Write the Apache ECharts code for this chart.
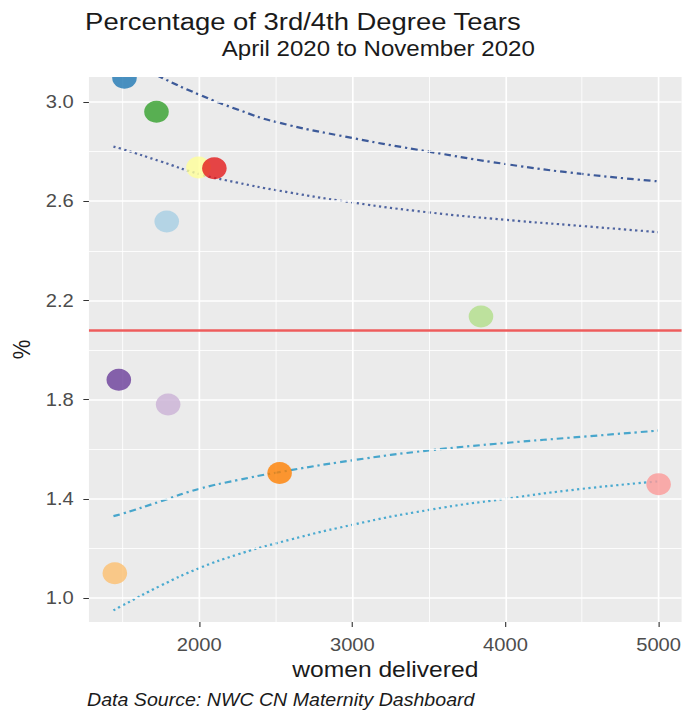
<!DOCTYPE html>
<html>
<head>
<meta charset="utf-8">
<script src="https://cdn.jsdelivr.net/npm/echarts@6/dist/echarts.min.js"></script>
<style>
  html, body { margin: 0; padding: 0; background: #fff; overflow: hidden; }
  /* chart is laid out narrower and stretched horizontally to the 684px frame */
  #chart { width: 610.7px; height: 713px; transform: scaleX(1.12); transform-origin: 0 0; }
</style>
</head>
<body>
<div id="chart"></div>
<script>
// Texts
const chartTitle = 'Percentage of 3rd/4th Degree Tears';
const chartSubtitle = 'April 2020 to November 2020';
const xAxisTitle = 'women delivered';
const yAxisTitle = '%';
const captionText = 'Data Source: NWC CN Maternity Dashboard';

// Ticks and grid breaks
const xTicks = [2000, 3000, 4000, 5000];
const xMinorBreaks = [1500, 2500, 3500, 4500];
const yTicks = [1.0, 1.4, 1.8, 2.2, 2.6, 3.0];
const yMinorBreaks = [1.2, 1.6, 2.0, 2.4, 2.8];

// One point per unit: women delivered and 3rd/4th degree tear rate (%)
const delivered = [1512, 1721, 1995, 2099, 1788, 3840, 1475, 1797, 2525, 1449, 5000];
const tearRate  = [3.098, 2.961, 2.736, 2.733, 2.518, 2.135, 1.88, 1.78, 1.504, 1.10, 1.459];
const pointColours = ['#1F78B4', '#33A02C', '#FFFF99', '#E31A1C', '#A6CEE3', '#B2DF8A',
                      '#6A3D9A', '#CAB2D6', '#FF7F00', '#FDBF6F', '#FB9A99'];

// Overall mean rate
const meanRate = 2.075;

// Funnel control limits
const limitN      = [1440, 1500, 1750, 2000, 2250, 2500, 3000, 3500, 4000, 4500, 5000];
const upperOuter  = [3.20, 3.18, 3.10, 3.03, 2.97, 2.92, 2.855, 2.80, 2.75, 2.71, 2.68];
const upperInner  = [2.82, 2.81, 2.76, 2.71, 2.675, 2.645, 2.595, 2.555, 2.525, 2.50, 2.475];
const lowerInner  = [1.33, 1.34, 1.39, 1.44, 1.475, 1.505, 1.555, 1.595, 1.625, 1.65, 1.675];
const lowerOuter  = [0.95, 0.97, 1.05, 1.12, 1.175, 1.22, 1.295, 1.355, 1.40, 1.44, 1.47];

const FONT = '"Liberation Sans", Arial, Helvetica, sans-serif';
const pair = (xs, ys) => xs.map((x, i) => [x, ys[i]]);

const gridLines = [];
xTicks.forEach(v => gridLines.push({ xAxis: v, lineStyle: { width: 1.5 } }));
xMinorBreaks.forEach(v => gridLines.push({ xAxis: v, lineStyle: { width: 0.8 } }));
yTicks.forEach(v => gridLines.push({ yAxis: v, lineStyle: { width: 1.6 } }));
yMinorBreaks.forEach(v => gridLines.push({ yAxis: v, lineStyle: { width: 0.8 } }));

function limitSeries(name, values, colour, dash) {
  return {
    name, type: 'line', data: pair(limitN, values), showSymbol: false, smooth: true,
    clip: true, z: 3, silent: true,
    lineStyle: { color: colour, width: 2.2, type: dash }
  };
}

const chart = echarts.init(document.getElementById('chart'), null, { renderer: 'svg' });
chart.setOption({
  animation: false,
  backgroundColor: '#ffffff',
  title: [
    { text: chartTitle, left: 76, top: 12, padding: 0,
      textStyle: { fontFamily: FONT, fontSize: 24.5, lineHeight: 20, fontWeight: 'normal', color: '#1A1A1A' } },
    { text: chartSubtitle, left: 198, top: 38, padding: 0,
      textStyle: { fontFamily: FONT, fontSize: 21.5, lineHeight: 20, fontWeight: 'normal', color: '#1A1A1A' } },
    { text: captionText, left: 77.7, top: 691, padding: 0,
      textStyle: { fontFamily: FONT, fontSize: 17.5, fontWeight: 'normal', fontStyle: 'italic', color: '#1A1A1A' } }
  ],
  grid: {
    left: 77.7, right: 0, top: 77, bottom: 91,
    show: true, backgroundColor: '#EBEBEB', borderWidth: 0
  },
  xAxis: {
    type: 'value', min: 1280, max: 5150,
    name: xAxisTitle, nameLocation: 'middle', nameGap: 36,
    nameTextStyle: { fontFamily: FONT, fontSize: 22, color: '#1A1A1A' },
    axisLine: { show: false },
    axisTick: { show: true, length: 5, customValues: xTicks, lineStyle: { color: '#333333', width: 1 } },
    axisLabel: { customValues: xTicks, margin: 13.5, fontFamily: FONT, fontSize: 18, color: '#4D4D4D',
                 formatter: v => String(Math.round(v)) },
    splitLine: { show: false }
  },
  yAxis: {
    type: 'value', min: 0.903, max: 3.101,
    name: yAxisTitle, nameLocation: 'middle', nameGap: 44, nameRotate: 90,
    nameTextStyle: { fontFamily: FONT, fontSize: 22, color: '#1A1A1A' },
    axisLine: { show: false },
    axisTick: { show: true, length: 5, customValues: yTicks, lineStyle: { color: '#333333', width: 1 } },
    axisLabel: { customValues: yTicks, margin: 13.5, fontFamily: FONT, fontSize: 18, color: '#4D4D4D',
                 formatter: v => Number(v).toFixed(1) },
    splitLine: { show: false }
  },
  series: [
    { // panel grid
      type: 'line', data: [], z: 1, silent: true,
      markLine: { silent: true, symbol: 'none', animation: false, label: { show: false },
                  lineStyle: { color: '#FFFFFF', type: 'solid' }, data: gridLines }
    },
    { // overall mean
      type: 'line', data: [], z: 2, silent: true,
      markLine: { silent: true, symbol: 'none', animation: false, label: { show: false },
                  lineStyle: { color: '#EE5C5C', width: 2.5, type: 'solid' },
                  data: [{ yAxis: meanRate }] }
    },
    limitSeries('upper outer', upperOuter, '#3D5A99', [6, 3.5, 2, 3.5]),
    limitSeries('upper inner', upperInner, '#4F64A0', [2, 3]),
    limitSeries('lower inner', lowerInner, '#48A6CC', [6, 3.5, 2, 3.5]),
    limitSeries('lower outer', lowerOuter, '#4AAAD0', [2, 3]),
    {
      type: 'scatter', z: 5, symbolSize: 22,
      data: delivered.map((n, i) => ({
        value: [n, tearRate[i]],
        itemStyle: { color: pointColours[i], opacity: 0.8 }
      }))
    }
  ],
  graphic: [
    { // keeps marks inside the top edge of the panel
      type: 'rect', z: 100, silent: true,
      shape: { x: 77.7, y: 60, width: 540, height: 17 },
      style: { fill: '#FFFFFF' }
    }
  ]
});
</script>
</body>
</html>
